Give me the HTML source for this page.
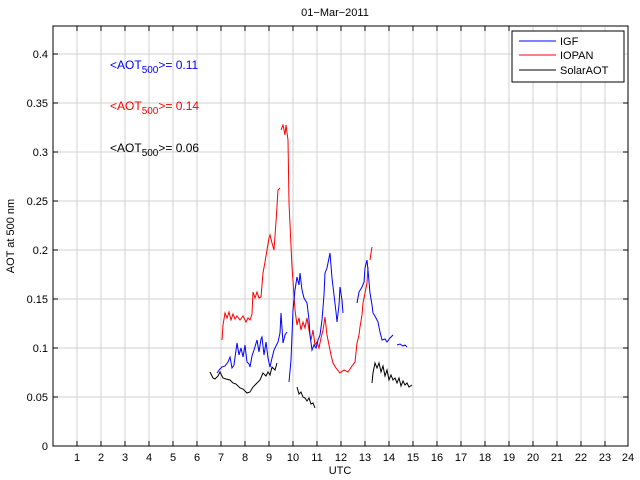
<!DOCTYPE html>
<html><head><style>body{margin:0;background:#fff}svg{display:block}text{font-family:"Liberation Sans",sans-serif}</style></head>
<body>
<svg width="640" height="480" xmlns="http://www.w3.org/2000/svg">
<rect width="640" height="480" fill="#fff"/>
<g stroke="#d0d0d0" stroke-width="1">
<line x1="77" y1="26" x2="77" y2="446"/><line x1="101" y1="26" x2="101" y2="446"/><line x1="125" y1="26" x2="125" y2="446"/><line x1="149" y1="26" x2="149" y2="446"/><line x1="173" y1="26" x2="173" y2="446"/><line x1="197" y1="26" x2="197" y2="446"/><line x1="221" y1="26" x2="221" y2="446"/><line x1="245" y1="26" x2="245" y2="446"/><line x1="269" y1="26" x2="269" y2="446"/><line x1="293" y1="26" x2="293" y2="446"/><line x1="317" y1="26" x2="317" y2="446"/><line x1="341" y1="26" x2="341" y2="446"/><line x1="365" y1="26" x2="365" y2="446"/><line x1="389" y1="26" x2="389" y2="446"/><line x1="413" y1="26" x2="413" y2="446"/><line x1="437" y1="26" x2="437" y2="446"/><line x1="461" y1="26" x2="461" y2="446"/><line x1="485" y1="26" x2="485" y2="446"/><line x1="509" y1="26" x2="509" y2="446"/><line x1="533" y1="26" x2="533" y2="446"/><line x1="557" y1="26" x2="557" y2="446"/><line x1="581" y1="26" x2="581" y2="446"/><line x1="605" y1="26" x2="605" y2="446"/>
<line x1="53" y1="397" x2="628" y2="397"/><line x1="53" y1="348" x2="628" y2="348"/><line x1="53" y1="299" x2="628" y2="299"/><line x1="53" y1="250" x2="628" y2="250"/><line x1="53" y1="201" x2="628" y2="201"/><line x1="53" y1="152" x2="628" y2="152"/><line x1="53" y1="103" x2="628" y2="103"/><line x1="53" y1="54" x2="628" y2="54"/>
</g>
<rect x="53" y="26" width="575" height="420" fill="none" stroke="#000"/>
<g fill="none" stroke-width="1">
<polyline stroke="#ff0000" points="222,340 223,325 225,313 227,318 229,312 231,320 233,314 235,319 237,316 240,320 243,316 246,322 248,318 250,320 252,314 253,292 255,298 257,292 259,298 261,297 263,273 265,262 267,250 269,238 270,235 272,243 274,250 276,222 278,190 280,188"/>
<polyline stroke="#ff0000" points="281,130 283,125 285,135 286,125 288,140 289,203 292,267 294,295 295,310 297,325 299,318 301,330 303,322 305,328 307,318 309,330 311,340 313,330 315,345 317,342 319,348 321,338 323,330 325,317 327,335 329,345 331,355 333,363 336,368 340,373 344,370 348,372 352,366 355,362 357,343 359,335 360,327 362,315 363,303 365,293 367,283 368,267"/>
<polyline stroke="#ff0000" points="370,260 371,253 372,247"/>
<polyline stroke="#0000ff" points="217,373 220,369 222,367 225,366 228,362 230,357 232,368 234,365 237,343 239,355 241,348 243,357 245,345 247,362 249,364 250,367 252,356 254,350 257,340 259,352 261,339 262,337 264,355 266,342 268,358 270,367 272,358 274,350 276,346 278,342 280,333 281,313 283,343 285,335 287,332"/>
<polyline stroke="#0000ff" points="289,382 291,360 293,310 295,290 297,277 299,285 300,273 302,290 304,298 307,303 309,320 310,335 312,350 314,345 316,348 318,340 320,335 322,320 324,295 325,273 327,268 330,253 332,278 334,295 336,312 337,322 339,305 340,287 342,300 343,313"/>
<polyline stroke="#0000ff" points="357,303 359,292 362,287 364,282 365,268 367,260 368,270 370,293 372,305 373,313 376,318 378,322 380,332 382,340 385,339 387,342 390,338 393,335"/>
<polyline stroke="#0000ff" points="397,345 400,344 403,346 405,345 407,347"/>
<polyline stroke="#000000" points="210,372 212,376 213,378 215,379 218,376 220,372 223,378 226,379 230,380 233,383 236,384 240,388 243,389 247,393 250,392 253,387 256,384 260,380 263,373 266,376 268,372 270,375 272,367 275,370 277,363"/>
<polyline stroke="#000000" points="297,387 299,394 301,392 303,397 305,398 307,401 309,398 311,404 313,403 315,408"/>
<polyline stroke="#000000" points="372,383 373,373 375,363 377,368 379,363 381,372 383,366 385,376 387,370 389,380 391,375 393,380 395,378 397,383 399,378 401,386 403,381 405,385 407,383 409,387 412,385"/>
</g>
<g font-size="11" fill="#000">
<text x="335" y="16" text-anchor="middle">01−Mar−2011</text>
<g text-anchor="end"><text x="48" y="450">0</text><text x="48" y="401">0.05</text><text x="48" y="352">0.1</text><text x="48" y="303">0.15</text><text x="48" y="254">0.2</text><text x="48" y="205">0.25</text><text x="48" y="156">0.3</text><text x="48" y="107">0.35</text><text x="48" y="58">0.4</text></g>
<g text-anchor="middle"><text x="77" y="461">1</text><text x="101" y="461">2</text><text x="125" y="461">3</text><text x="149" y="461">4</text><text x="173" y="461">5</text><text x="197" y="461">6</text><text x="221" y="461">7</text><text x="245" y="461">8</text><text x="269" y="461">9</text><text x="293" y="461">10</text><text x="317" y="461">11</text><text x="341" y="461">12</text><text x="365" y="461">13</text><text x="389" y="461">14</text><text x="413" y="461">15</text><text x="437" y="461">16</text><text x="461" y="461">17</text><text x="485" y="461">18</text><text x="509" y="461">19</text><text x="533" y="461">20</text><text x="557" y="461">21</text><text x="581" y="461">22</text><text x="605" y="461">23</text><text x="628" y="461">24</text></g>
<text x="340" y="474" text-anchor="middle">UTC</text>
<text transform="translate(14,236) rotate(-90)" text-anchor="middle">AOT at 500 nm</text>
</g>
<g font-size="12">
<text x="110" y="69" fill="#0000ff">&lt;AOT<tspan font-size="10" dy="4">500</tspan><tspan dy="-4">&gt;= 0.11</tspan></text>
<text x="110" y="110" fill="#ff0000">&lt;AOT<tspan font-size="10" dy="4">500</tspan><tspan dy="-4">&gt;= 0.14</tspan></text>
<text x="110" y="152">&lt;AOT<tspan font-size="10" dy="4">500</tspan><tspan dy="-4">&gt;= 0.06</tspan></text>
</g>
<g stroke="#000" stroke-width="1">
<line x1="77" y1="446" x2="77" y2="441"/><line x1="101" y1="446" x2="101" y2="441"/><line x1="125" y1="446" x2="125" y2="441"/><line x1="149" y1="446" x2="149" y2="441"/><line x1="173" y1="446" x2="173" y2="441"/><line x1="197" y1="446" x2="197" y2="441"/><line x1="221" y1="446" x2="221" y2="441"/><line x1="245" y1="446" x2="245" y2="441"/><line x1="269" y1="446" x2="269" y2="441"/><line x1="293" y1="446" x2="293" y2="441"/><line x1="317" y1="446" x2="317" y2="441"/><line x1="341" y1="446" x2="341" y2="441"/><line x1="365" y1="446" x2="365" y2="441"/><line x1="389" y1="446" x2="389" y2="441"/><line x1="413" y1="446" x2="413" y2="441"/><line x1="437" y1="446" x2="437" y2="441"/><line x1="461" y1="446" x2="461" y2="441"/><line x1="485" y1="446" x2="485" y2="441"/><line x1="509" y1="446" x2="509" y2="441"/><line x1="533" y1="446" x2="533" y2="441"/><line x1="557" y1="446" x2="557" y2="441"/><line x1="581" y1="446" x2="581" y2="441"/><line x1="605" y1="446" x2="605" y2="441"/>
<line x1="77" y1="26" x2="77" y2="31"/><line x1="101" y1="26" x2="101" y2="31"/><line x1="125" y1="26" x2="125" y2="31"/><line x1="149" y1="26" x2="149" y2="31"/><line x1="173" y1="26" x2="173" y2="31"/><line x1="197" y1="26" x2="197" y2="31"/><line x1="221" y1="26" x2="221" y2="31"/><line x1="245" y1="26" x2="245" y2="31"/><line x1="269" y1="26" x2="269" y2="31"/><line x1="293" y1="26" x2="293" y2="31"/><line x1="317" y1="26" x2="317" y2="31"/><line x1="341" y1="26" x2="341" y2="31"/><line x1="365" y1="26" x2="365" y2="31"/><line x1="389" y1="26" x2="389" y2="31"/><line x1="413" y1="26" x2="413" y2="31"/><line x1="437" y1="26" x2="437" y2="31"/><line x1="461" y1="26" x2="461" y2="31"/><line x1="485" y1="26" x2="485" y2="31"/><line x1="509" y1="26" x2="509" y2="31"/>
<line x1="53" y1="397" x2="58" y2="397"/><line x1="53" y1="348" x2="58" y2="348"/><line x1="53" y1="299" x2="58" y2="299"/><line x1="53" y1="250" x2="58" y2="250"/><line x1="53" y1="201" x2="58" y2="201"/><line x1="53" y1="152" x2="58" y2="152"/><line x1="53" y1="103" x2="58" y2="103"/><line x1="53" y1="54" x2="58" y2="54"/>
<line x1="628" y1="397" x2="623" y2="397"/><line x1="628" y1="348" x2="623" y2="348"/><line x1="628" y1="299" x2="623" y2="299"/><line x1="628" y1="250" x2="623" y2="250"/><line x1="628" y1="201" x2="623" y2="201"/><line x1="628" y1="152" x2="623" y2="152"/><line x1="628" y1="103" x2="623" y2="103"/>
</g>
<rect x="512" y="31" width="112" height="51" fill="#fff" stroke="#000"/>
<line x1="519" y1="41" x2="556" y2="41" stroke="#0000ff"/>
<line x1="519" y1="55" x2="556" y2="55" stroke="#ff0000"/>
<line x1="519" y1="70" x2="556" y2="70" stroke="#000"/>
<g font-size="11"><text x="560" y="45">IGF</text><text x="560" y="59">IOPAN</text><text x="560" y="74">SolarAOT</text></g>
</svg>
</body></html>
